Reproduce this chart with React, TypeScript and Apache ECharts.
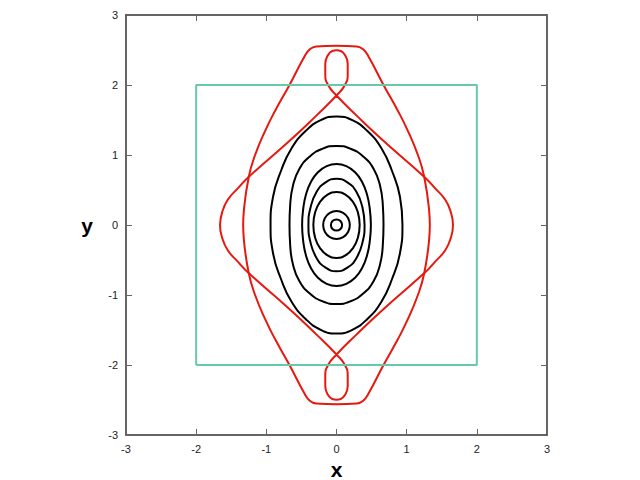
import React, { useEffect, useRef } from "react";
import * as echarts from "echarts";

const xTicks = [-3, -2, -1, 0, 1, 2, 3];
const yTicks = [-3, -2, -1, 0, 1, 2, 3];

const square: number[][] = [[-2, -2], [2, -2], [2, 2], [-2, 2], [-2, -2]];

const ellipse1: number[][] = [
  [0.94, 0], [0.905, 0.4], [0.79, 0.775], [0.64, 1.096], [0.44, 1.342], [0.225, 1.497], [0, 1.55],
  [-0.225, 1.497], [-0.44, 1.342], [-0.64, 1.096], [-0.79, 0.775], [-0.905, 0.4], [-0.94, 0],
  [-0.905, -0.4], [-0.79, -0.775], [-0.64, -1.096], [-0.44, -1.342], [-0.225, -1.497], [0, -1.55],
  [0.225, -1.497], [0.44, -1.342], [0.64, -1.096], [0.79, -0.775], [0.905, -0.4],
];
const ellipse2: number[][] = [
  [0.67, 0], [0.66, 0.29], [0.62, 0.565], [0.53, 0.8], [0.38, 0.98], [0.2, 1.09], [0, 1.13],
  [-0.2, 1.09], [-0.38, 0.98], [-0.53, 0.8], [-0.62, 0.565], [-0.66, 0.29], [-0.67, 0],
  [-0.66, -0.29], [-0.62, -0.565], [-0.53, -0.8], [-0.38, -0.98], [-0.2, -1.09], [0, -1.13],
  [0.2, -1.09], [0.38, -0.98], [0.53, -0.8], [0.62, -0.565], [0.66, -0.29],
];
const ellipse3: number[][] = [
  [0.49, 0], [0.475, 0.225], [0.435, 0.435], [0.365, 0.615], [0.265, 0.753], [0.14, 0.84], [0, 0.87],
  [-0.14, 0.84], [-0.265, 0.753], [-0.365, 0.615], [-0.435, 0.435], [-0.475, 0.225], [-0.49, 0],
  [-0.475, -0.225], [-0.435, -0.435], [-0.365, -0.615], [-0.265, -0.753], [-0.14, -0.84], [0, -0.87],
  [0.14, -0.84], [0.265, -0.753], [0.365, -0.615], [0.435, -0.435], [0.475, -0.225],
];
const ellipse4: number[][] = [[0.4, 0], [0.37, 0.25], [0.285, 0.47], [0.155, 0.61], [0, 0.66], [-0.155, 0.61], [-0.285, 0.47], [-0.37, 0.25], [-0.4, 0], [-0.37, -0.25], [-0.285, -0.47], [-0.155, -0.61], [0, -0.66], [0.155, -0.61], [0.285, -0.47], [0.37, -0.25]];
const ellipse5: number[][] = [[0.33, 0], [0.305, 0.18], [0.235, 0.33], [0.127, 0.435], [0, 0.47], [-0.127, 0.435], [-0.235, 0.33], [-0.305, 0.18], [-0.33, 0], [-0.305, -0.18], [-0.235, -0.33], [-0.127, -0.435], [0, -0.47], [0.127, -0.435], [0.235, -0.33], [0.305, -0.18]];
const ellipse6: number[][] = [[0.19, 0], [0.165, 0.1], [0.095, 0.173], [0, 0.2], [-0.095, 0.173], [-0.165, 0.1], [-0.19, 0], [-0.165, -0.1], [-0.095, -0.173], [0, -0.2], [0.095, -0.173], [0.165, -0.1]];
const ellipse7: number[][] = [[0.08, 0], [0.057, 0.057], [0, 0.08], [-0.057, 0.057], [-0.08, 0], [-0.057, -0.057], [0, -0.08], [0.057, -0.057]];

const tallCurve: number[][] = [
  [0, 2.56], [0.29, 2.55], [0.38, 2.51], [0.46, 2.4], [0.67, 2.0], [0.87, 1.64], [1.01, 1.36], [1.16, 1.0], [1.25, 0.69], [1.32, 0.21], [1.33, 0],
  [1.32, -0.21], [1.25, -0.69], [1.16, -1.0], [1.01, -1.36], [0.87, -1.64], [0.67, -2.0], [0.46, -2.4], [0.38, -2.51], [0.29, -2.55], [0, -2.56],
  [-0.29, -2.55], [-0.38, -2.51], [-0.46, -2.4], [-0.67, -2.0], [-0.87, -1.64], [-1.01, -1.36], [-1.16, -1.0], [-1.25, -0.69], [-1.32, -0.21], [-1.33, 0],
  [-1.32, 0.21], [-1.25, 0.69], [-1.16, 1.0], [-1.01, 1.36], [-0.87, 1.64], [-0.67, 2.0], [-0.46, 2.4], [-0.38, 2.51], [-0.29, 2.55],
];

const loopCurve: number[][] = [
  [-1.66, 0], [-1.63, 0.18], [-1.55, 0.36], [-1.4, 0.53], [-1.26, 0.68], [-0.66, 1.21], [-0.28, 1.57], [0, 1.85],
  [0.12, 2.0], [0.16, 2.15], [0.16, 2.3], [0.12, 2.43], [0.06, 2.485], [0, 2.495], [-0.06, 2.485], [-0.12, 2.43], [-0.16, 2.3], [-0.16, 2.15], [-0.12, 2.0], [0, 1.85],
  [0.28, 1.57], [0.66, 1.21], [1.26, 0.68], [1.4, 0.53], [1.55, 0.36], [1.63, 0.18], [1.66, 0],
  [1.63, -0.18], [1.55, -0.36], [1.4, -0.53], [1.26, -0.68], [0.66, -1.21], [0.28, -1.57], [0, -1.85],
  [-0.12, -2.0], [-0.16, -2.15], [-0.16, -2.3], [-0.12, -2.43], [-0.06, -2.485], [0, -2.495], [0.06, -2.485], [0.12, -2.43], [0.16, -2.3], [0.16, -2.15], [0.12, -2.0], [0, -1.85],
  [-0.28, -1.57], [-0.66, -1.21], [-1.26, -0.68], [-1.4, -0.53], [-1.55, -0.36], [-1.63, -0.18],
];

const closeLoop = (pts: number[][]) => [...pts, pts[0], pts[1]];

const FONT = "Liberation Sans, Arial, sans-serif";

export default function App() {
  const ref = useRef<HTMLDivElement>(null);
  useEffect(() => {
    if (!ref.current) return;
    const chart = echarts.init(ref.current, undefined, { renderer: "svg" });
    const axisCommon = {
      type: "value" as const,
      min: -3,
      max: 3,
      interval: 1,
      axisLine: { show: true, onZero: false, lineStyle: { color: "#333", width: 1.5 } },
      axisTick: { show: true, inside: true, length: 6, lineStyle: { color: "#666", width: 1 } },
      splitLine: { show: false },
    };
    const lineSeries = (data: number[][], color: string, smooth: boolean, z: number) => ({
      type: "line" as const,
      data,
      showSymbol: false,
      symbol: "none",
      smooth: smooth ? 0.5 : false,
      lineStyle: { color, width: 2 },
      silent: true,
      z,
    });
    const blacks = [ellipse1, ellipse2, ellipse3, ellipse4, ellipse5, ellipse6, ellipse7];
    chart.setOption({
      animation: false,
      grid: { left: 126, right: 93, top: 15, bottom: 45, containLabel: false, outerBoundsMode: "none" },
      xAxis: [
        {
          ...axisCommon,
          position: "bottom",
          name: "x",
          nameLocation: "middle",
          nameGap: 22,
          nameTextStyle: { fontSize: 21, lineHeight: 21, fontWeight: "bold", color: "#000", fontFamily: FONT },
          axisLabel: {
            show: true,
            margin: 8,
            fontSize: 11,
            color: "#222",
            fontFamily: FONT,
            formatter: (v: number) => (xTicks.includes(v) ? String(v) : ""),
          },
        },
        { ...axisCommon, position: "top", axisLabel: { show: false } },
      ],
      yAxis: [
        {
          ...axisCommon,
          position: "left",
          name: "y",
          nameLocation: "middle",
          nameRotate: 0,
          nameGap: 33,
          nameTextStyle: { fontSize: 21, fontWeight: "bold", color: "#000", fontFamily: FONT },
          axisLabel: {
            show: true,
            margin: 8,
            fontSize: 11,
            color: "#222",
            fontFamily: FONT,
            formatter: (v: number) => (yTicks.includes(v) ? String(v) : ""),
          },
        },
        { ...axisCommon, position: "right", axisLabel: { show: false } },
      ],
      series: [
        ...blacks.map((e) => lineSeries(closeLoop(e), "#000000", true, 3)),
        lineSeries(closeLoop(tallCurve), "#e5190f", true, 4),
        lineSeries(closeLoop(loopCurve), "#e5190f", true, 4),
        lineSeries(square, "#66c9a9", false, 5),
      ],
    });
    return () => chart.dispose();
  }, []);
  return <div ref={ref} style={{ width: 640, height: 480, position: "absolute", left: 0, top: 0 }} />;
}
